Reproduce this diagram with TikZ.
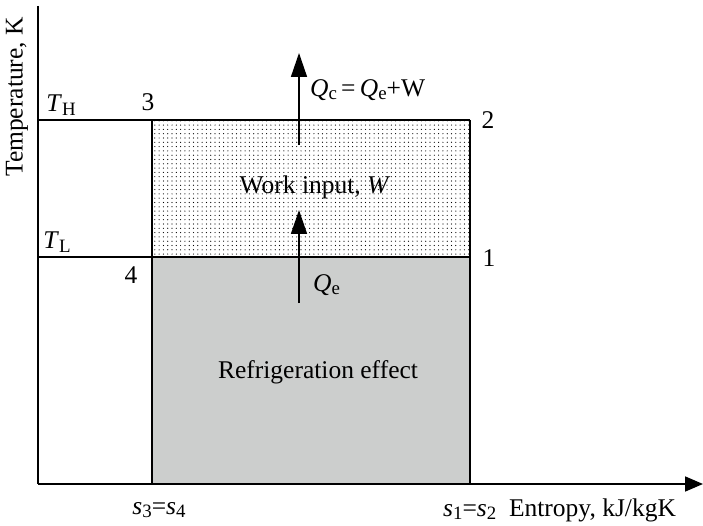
\documentclass[tikz,border=0pt]{standalone}
\usepackage{fontspec}
\setmainfont{Liberation Serif}
\usetikzlibrary{arrows.meta,patterns.meta}
\newcommand\lsub[1]{\raisebox{-0.3ex}{\scalebox{0.74}{#1}}}
\definecolor{regiongray}{RGB}{204,206,205}
\begin{document}
\begin{tikzpicture}[x=1pt,y=1pt,
  lbl/.style={inner sep=0pt,font=\fontsize{25.5}{30}\selectfont},
  ln/.style={line width=1.6pt},
  axis/.style={line width=1.8pt},
  flow/.style={line width=1.5pt,-{Triangle[length=24pt,width=16pt]}}]
\useasboundingbox (0,0) rectangle (703,525);
% regions
\fill[regiongray] (152,41) rectangle (470,268);
\fill[pattern={Dots[distance=4.3pt,radius=0.6pt]},pattern color=black] (152,268) rectangle (470,405);
% coordinates
\coordinate (O) at (38,41);
\coordinate (Ytop) at (38,519);
\coordinate (Xend) at (703,41);
\coordinate (H0) at (38,405);
\coordinate (L0) at (38,268);
\coordinate (P3) at (152,405);
\coordinate (P4) at (152,268);
\coordinate (P2) at (470,405);
\coordinate (P1) at (470,268);
\coordinate (B3) at (152,41);
\coordinate (B1) at (470,41);
% lines
\draw[ln] (H0) -- (P2);
\draw[ln] (L0) -- (P1);
\draw[ln] (P3) -- (B3);
\draw[ln] (P2) -- (B1);
\draw[axis] (Ytop) -- (O);
\draw[axis,-{Triangle[length=18pt,width=15pt]}] (O) -- (Xend);
% arrows
\coordinate (a1s) at (299,380);
\coordinate (a1e) at (299,472);
\coordinate (a2s) at (299,222);
\coordinate (a2e) at (299,315);
\draw[flow] (a1s) -- (a1e);
\draw[flow] (a2s) -- (a2e);
% labels
\node[lbl] (TH) at (61,420) {\textit{T}\lsub{H}};
\node[lbl] (n3) at (148,423) {3};
\node[lbl] (n2) at (488,405) {2};
\node[lbl] (n1) at (489,267) {1};
\node[lbl] (TL) at (57,283) {\textit{T}\lsub{L}};
\node[lbl] (n4) at (131,250) {4};
\node[lbl,anchor=west] (Qc) at (310,435) {\textit{Q}\lsub{c}\,=\,\textit{Q}\lsub{e}+W};
\node[lbl] (work) at (315,338) {Work input, \textit{W}};
\node[lbl,anchor=west] (Qe) at (313,240) {\textit{Q}\lsub{e}};
\node[lbl] (ref) at (318,153) {Refrigeration effect};
\node[lbl] (s34) at (159,15) {\textit{s}\lsub{3}=\textit{s}\lsub{4}};
\node[lbl,anchor=west] (s12) at (443,15) {\textit{s}\lsub{1}=\textit{s}\lsub{2}\ \ Entropy, kJ/kgK};
\node[lbl,rotate=90] (temp) at (17,428) {Temperature, K};
\end{tikzpicture}
\end{document}
